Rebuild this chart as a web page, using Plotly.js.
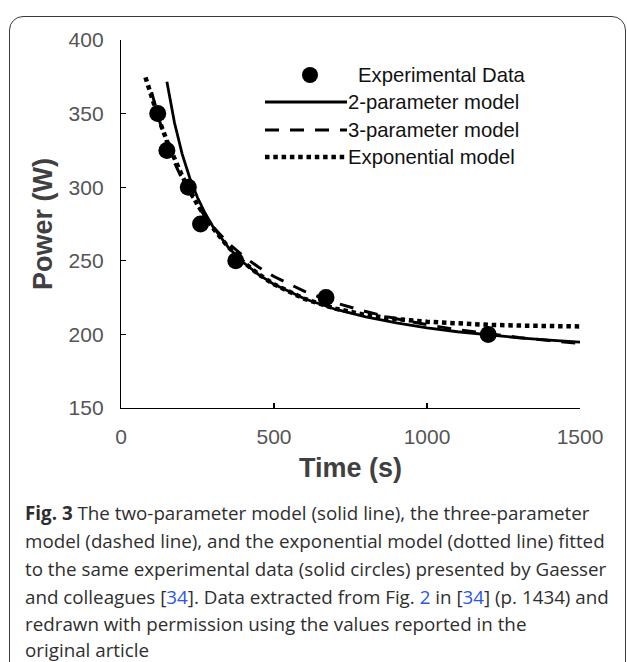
<!DOCTYPE html>
<html>
<head>
<meta charset="utf-8">
<script src="https://cdn.plot.ly/plotly-3.0.1.min.js"></script>
<style>
  html, body { margin: 0; padding: 0; background: #fff; }
  #wrap { position: relative; width: 627px; height: 662px; overflow: hidden; }
  #chart { position: absolute; left: 0; top: 0; width: 627px; height: 662px; }
  #frame { position: absolute; left: 9px; top: 16px; width: 615px; height: 700px;
           border: 1.5px solid #3a3a3a; border-radius: 14px; pointer-events: none; }
</style>
</head>
<body>
<div id="wrap">
  <div id="chart"></div>
  <div id="frame"></div>
</div>
<script>
// ---- Experimental data (solid circles) ----
const expTime  = [120, 150, 220, 260, 375, 670, 1200];
const expPower = [350, 325, 300, 275, 250, 225, 200];

// ---- 2-parameter model (solid line) ----
const twoParTime  = [150, 160, 175, 200, 225, 250, 275, 300, 350, 400, 450, 500, 600, 700, 800, 900, 1000, 1100, 1200, 1300, 1400, 1500];
const twoParPower = [371.7, 359.4, 343.6, 322.5, 306.1, 293.0, 282.3, 273.3, 259.3, 248.8, 240.6, 234.0, 224.2, 217.1, 211.9, 207.8, 204.5, 201.8, 199.6, 197.7, 196.1, 194.7];

// ---- 3-parameter model (dashed line) ----
const threeParTime  = [100, 125, 150, 175, 200, 250, 300, 350, 400, 450, 500, 600, 700, 800, 900, 1000, 1100, 1200, 1300, 1400, 1500];
const threeParPower = [364.6, 345.5, 329.8, 316.6, 305.4, 287.2, 273.2, 262.1, 253.1, 245.6, 239.3, 229.2, 221.5, 215.5, 210.6, 206.6, 203.2, 200.4, 197.9, 195.8, 193.9];

// ---- Exponential model (dotted line) ----
const expoTime  = [80, 100, 125, 150, 175, 200, 250, 300, 350, 400, 450, 500, 600, 700, 800, 900, 1000, 1100, 1200, 1300, 1400, 1500];
const expoPower = [374.6, 361.0, 345.4, 331.4, 318.8, 307.5, 288.1, 272.3, 259.5, 249.2, 240.8, 234.0, 224.1, 217.5, 213.2, 210.4, 208.6, 207.3, 206.5, 206.0, 205.7, 205.4];

// ---- Axis ticks ----
const xTicks = [0, 500, 1000, 1500];
const yTicks = [150, 200, 250, 300, 350, 400];

// ---- Legend labels ----
const legendLabels = ['Experimental Data', '2-parameter model', '3-parameter model', 'Exponential model'];

// ---- Caption ----
const LINK = '#2b55e6';
const link = t => '<span style="color:' + LINK + '">' + t + '</span>';
const captionLines = [
  '<b>Fig. 3</b> The two-parameter model (solid line), the three-parameter',
  'model (dashed line), and the exponential model (dotted line) fitted',
  'to the same experimental data (solid circles) presented by Gaesser',
  'and colleagues [' + link('34') + ']. Data extracted from Fig. ' + link('2') + ' in [' + link('34') + '] (p. 1434) and',
  'redrawn with permission using the values reported in the',
  'original article'
];

// plot area geometry in pixels
const ML = 121, MR = 47, MT = 40, MB = 254, FW = 627, FH = 662;
const PW = FW - ML - MR, PH = FH - MT - MB;
const px = x => (x - ML) / PW;
const py = y => (MT + PH - y) / PH;

const solidW = 2.8, dashW = 3, dotW = 4.5;
const dotDash = '4.5px,3.8px';
const dashDash = '14px,11px';

const traces = [
  { x: twoParTime, y: twoParPower, mode: 'lines', line: { color: '#000', width: solidW }, showlegend: false, hoverinfo: 'skip' },
  { x: threeParTime, y: threeParPower, mode: 'lines', line: { color: '#000', width: dashW, dash: dashDash }, showlegend: false, hoverinfo: 'skip' },
  { x: expoTime, y: expoPower, mode: 'lines', line: { color: '#000', width: dotW, dash: dotDash }, showlegend: false, hoverinfo: 'skip' },
  { x: expTime, y: expPower, mode: 'markers', marker: { color: '#000', size: 17, line: { width: 0 } }, showlegend: false, hoverinfo: 'skip' }
];

// manual legend
const legY = [75, 102, 130, 157];
const shapes = [
  { type: 'circle', xref: 'paper', yref: 'paper', x0: px(302), x1: px(318), y0: py(legY[0] + 8), y1: py(legY[0] - 8), fillcolor: '#000', line: { width: 0 } },
  { type: 'line', xref: 'paper', yref: 'paper', x0: px(265), x1: px(347), y0: py(legY[1]), y1: py(legY[1]), line: { color: '#000', width: solidW } },
  { type: 'line', xref: 'paper', yref: 'paper', x0: px(265), x1: px(347), y0: py(legY[2]), y1: py(legY[2]), line: { color: '#000', width: dashW, dash: dashDash } },
  { type: 'line', xref: 'paper', yref: 'paper', x0: px(265), x1: px(347), y0: py(legY[3]), y1: py(legY[3]), line: { color: '#000', width: dotW, dash: dotDash } }
];
const legX = [357, 347, 347, 347];
const annotations = legendLabels.map((t, i) => ({
  text: t, xref: 'paper', yref: 'paper', x: px(legX[i]), y: py(legY[i]),
  xanchor: 'left', yanchor: 'middle', showarrow: false, borderpad: 0,
  font: { family: 'Liberation Sans, Arial, sans-serif', size: 20.3, color: '#111' }
}));

const capY = [513, 541, 569, 597, 624, 650];
captionLines.forEach((t, i) => {
  annotations.push({
    text: t, xref: 'paper', yref: 'paper', x: px(24), y: py(capY[i]),
    xanchor: 'left', yanchor: 'middle', align: 'left', showarrow: false, borderpad: 0,
    font: { family: 'Open Sans, Noto Sans, sans-serif', size: 18.8, color: '#2e2e2e' }
  });
});

const axisFont = { family: 'Liberation Sans, Arial, sans-serif', size: 21, color: '#555' };
const titleFont = { family: 'Liberation Sans, Arial, sans-serif', size: 27, color: '#404040' };

const layout = {
  width: FW, height: FH,
  margin: { l: ML, r: MR, t: MT, b: MB, pad: 0 },
  paper_bgcolor: '#fff', plot_bgcolor: '#fff',
  showlegend: false,
  xaxis: {
    range: [0, 1500], tickvals: xTicks, ticktext: xTicks.map(String),
    ticks: 'inside', ticklen: 5, tickwidth: 1.2, tickcolor: '#000',
    showline: true, linecolor: '#000', linewidth: 1.2,
    showgrid: false, zeroline: false, mirror: false,
    tickfont: axisFont, ticklabelstandoff: 10,
    title: { text: '<b>Time (s)</b>', font: titleFont, standoff: 10 },
    automargin: false
  },
  yaxis: {
    range: [150, 400], tickvals: yTicks, ticktext: yTicks.map(String),
    ticks: 'inside', ticklen: 5, tickwidth: 1.2, tickcolor: '#000',
    showline: true, linecolor: '#000', linewidth: 1.2,
    showgrid: false, zeroline: false, mirror: false,
    tickfont: axisFont, ticklabelstandoff: 12,
    title: { text: '<b>Power (W)</b>', font: titleFont, standoff: 8 },
    automargin: false
  },
  shapes: shapes,
  annotations: annotations
};

Plotly.newPlot('chart', traces, layout, { displayModeBar: false, staticPlot: true });
</script>
</body>
</html>
